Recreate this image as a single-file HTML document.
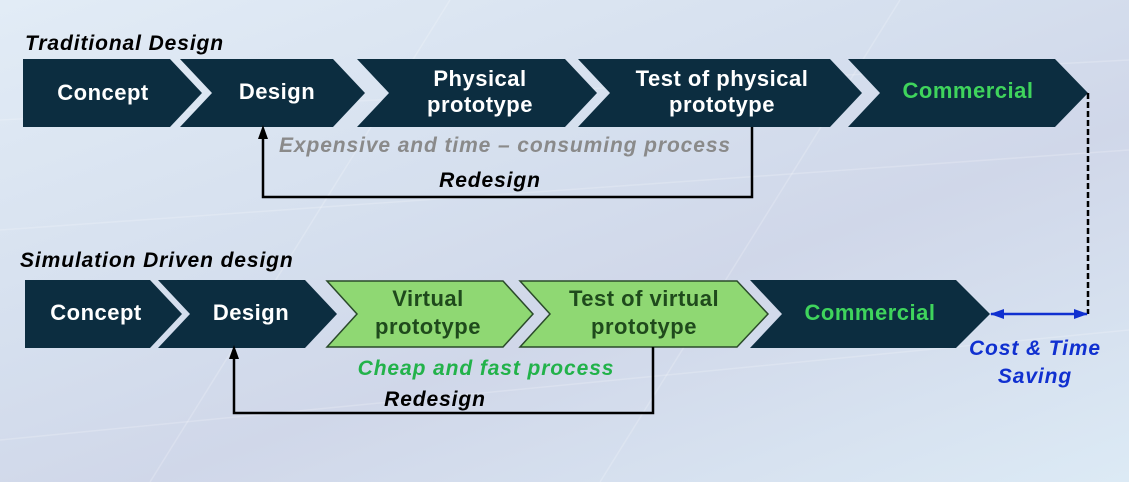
<!DOCTYPE html>
<html><head><meta charset="utf-8"><style>
html,body{margin:0;padding:0;}
body{width:1129px;height:482px;overflow:hidden;background:linear-gradient(160deg,#e2ecf6 0%,#d5dfee 40%,#d0d7e9 60%,#dceaf5 100%);}
svg{display:block;font-family:"Liberation Sans",sans-serif;}
.b{font-weight:bold;font-size:22px;letter-spacing:0.5px;fill:#fff;text-anchor:middle;}
.g{fill:#3fd45c;}
.dg{fill:#1f4a1c;}
.it{font-style:italic;font-weight:bold;font-size:21px;letter-spacing:0.9px;}
</style></head><body>
<svg width="1129" height="482" viewBox="0 0 1129 482">
<defs>
<marker id="ah" markerUnits="userSpaceOnUse" markerWidth="14" markerHeight="10" refX="6" refY="5" orient="auto"><path d="M0,0 L14,5 L0,10 z" fill="#000"/></marker>
<marker id="bh" markerUnits="userSpaceOnUse" markerWidth="14" markerHeight="10" refX="13" refY="5" orient="auto-start-reverse"><path d="M0,0 L14,5 L0,10 z" fill="#1030d0"/></marker>
</defs>
<g stroke="#ffffff" stroke-opacity="0.2" stroke-width="1.5" fill="none">
<path d="M0,230 L1129,150"/><path d="M0,440 L1129,330"/><path d="M150,482 L450,0"/><path d="M600,482 L900,0"/><path d="M0,120 L1129,60"/>
</g>
<g fill="#0c2d40">
<polygon points="23,59 170,59 202,93 170,127 23,127"/>
<polygon points="180,59 333,59 365,93 333,127 180,127 212,93"/>
<polygon points="357,59 565,59 597,93 565,127 357,127 389,93"/>
<polygon points="578,59 830,59 862,93 830,127 578,127 610,93"/>
<polygon points="848,59 1055,59 1088,93 1055,127 848,127 880,93"/>
</g>
<text class="b" x="103" y="100">Concept</text>
<text class="b" x="277" y="99">Design</text>
<text class="b" x="480" y="86">Physical</text>
<text class="b" x="480" y="112">prototype</text>
<text class="b" x="722" y="86">Test of physical</text>
<text class="b" x="722" y="112">prototype</text>
<text class="b g" x="968" y="98">Commercial</text>
<polygon fill="#0c2d40" points="25,280 150,280 182,314 150,348 25,348"/>
<polygon fill="#0c2d40" points="158,280 305,280 337,314 305,348 158,348 190,314"/>
<polygon fill="#8fd873" stroke="#2a4a2a" stroke-width="1.5" points="327,281 503,281 533,314 503,347 327,347 357,314"/>
<polygon fill="#8fd873" stroke="#2a4a2a" stroke-width="1.5" points="520,281 737,281 768,314 737,347 520,347 550,314"/>
<polygon fill="#0c2d40" points="750,280 956,280 990,314 956,348 750,348 782,314"/>
<text class="b" x="96" y="320">Concept</text>
<text class="b" x="251" y="320">Design</text>
<text class="b dg" x="428" y="306">Virtual</text>
<text class="b dg" x="428" y="334">prototype</text>
<text class="b dg" x="644" y="306">Test of virtual</text>
<text class="b dg" x="644" y="334">prototype</text>
<text class="b g" x="870" y="320">Commercial</text>
<text class="it" x="25" y="50" fill="#000">Traditional Design</text>
<text class="it" x="20" y="267" fill="#000">Simulation Driven design</text>
<text class="it" x="505" y="152" fill="#8a8a8a" text-anchor="middle">Expensive and time – consuming process</text>
<text class="it" x="490" y="187" fill="#000" text-anchor="middle">Redesign</text>
<text class="it" x="486" y="375" fill="#22b24a" text-anchor="middle">Cheap and fast process</text>
<text class="it" x="435" y="406" fill="#000" text-anchor="middle">Redesign</text>
<text class="it" x="1035" y="355" fill="#1030d0" text-anchor="middle">Cost &amp; Time</text>
<text class="it" x="1035" y="383" fill="#1030d0" text-anchor="middle">Saving</text>
<path d="M752,127 L752,197 L263,197 L263,133" stroke="#000" stroke-width="2.5" fill="none" marker-end="url(#ah)"/>
<path d="M653,347 L653,413 L234,413 L234,353" stroke="#000" stroke-width="2.5" fill="none" marker-end="url(#ah)"/>
<path d="M1088,93 L1088,314" stroke="#000" stroke-width="2.5" stroke-dasharray="6,3" fill="none"/>
<path d="M991,314 L1087,314" stroke="#1030d0" stroke-width="2.5" fill="none" marker-start="url(#bh)" marker-end="url(#bh)"/>
</svg>
</body></html>
